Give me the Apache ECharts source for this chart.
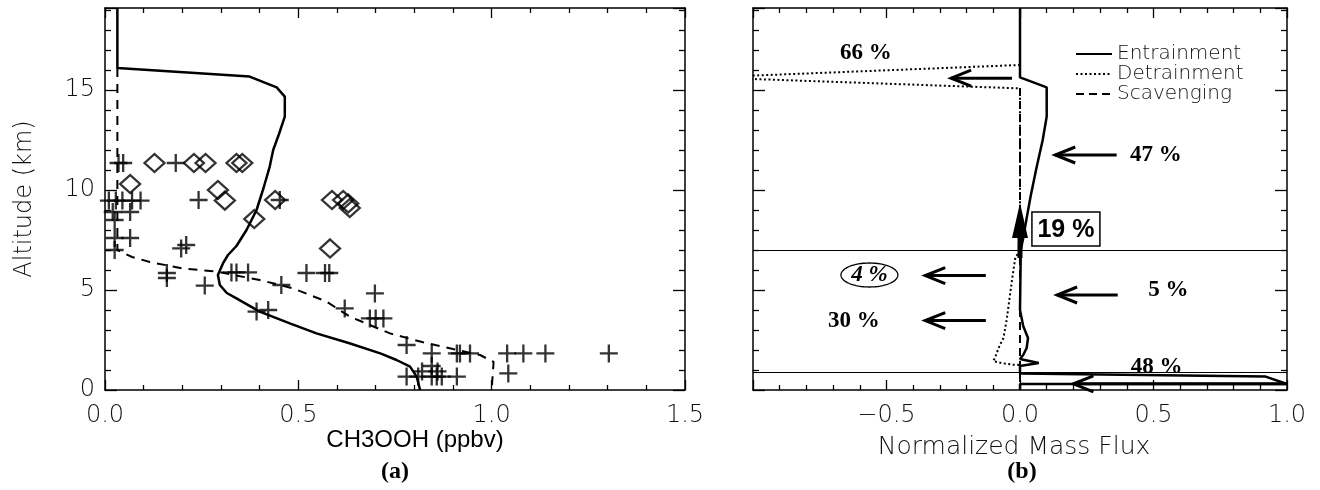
<!DOCTYPE html>
<html><head><meta charset="utf-8">
<script src="https://cdn.jsdelivr.net/npm/echarts@6/dist/echarts.min.js"></script>
<style>html,body{margin:0;padding:0;background:#fff}#c{width:1320px;height:490px}</style>
</head><body><div id="c"></div>
<script>
// ---------- DATA ----------
// Panel (a): CH3OOH (ppbv) vs altitude (km)
const modelSolid = [[0.032,19.1],[0.032,16.1],[0.374,15.67],[0.444,15.13],[0.465,14.67],[0.465,13.67],[0.45,12.8],[0.435,12.0],[0.426,11.17],[0.41,10.1],[0.392,9.0],[0.366,8.0],[0.34,7.2],[0.318,6.75],[0.305,6.33],[0.292,5.75],[0.297,5.25],[0.315,4.85],[0.34,4.58],[0.4,3.92],[0.478,3.33],[0.547,2.83],[0.63,2.35],[0.712,1.83],[0.754,1.5],[0.789,1.17],[0.806,0.67],[0.815,0]];
const modelDashed = [[0.032,16.1],[0.032,7.0],[0.07,6.65],[0.116,6.4],[0.2,6.08],[0.288,5.92],[0.4,5.5],[0.487,5.08],[0.573,4.42],[0.633,3.67],[0.737,2.83],[0.82,2.4],[0.9,2.05],[0.97,1.75],[1.005,1.4],[1.0,0]];
const obsCross = [[0.035,11.35],[0.047,11.35],[0.183,11.35],
 [0.01,9.47],[0.028,9.47],[0.045,9.47],[0.07,9.47],[0.092,9.47],[0.242,9.5],[0.452,9.5],
 [0.02,8.9],[0.065,8.9],[0.025,8.5],
 [0.025,7.6],[0.065,7.6],[0.025,7.0],[0.197,7.08],[0.21,7.25],
 [0.16,5.85],[0.16,5.6],[0.258,5.22],[0.327,5.88],[0.34,5.88],[0.37,5.88],[0.456,5.25],[0.521,5.85],[0.569,5.85],[0.58,5.85],
 [0.698,4.83],[0.392,3.92],[0.422,4.0],[0.62,4.08],[0.685,3.58],[0.70,3.58],[0.72,3.58],
 [0.78,2.25],[0.845,1.83],[0.91,1.83],[0.918,1.83],[0.944,1.83],[1.04,1.83],[1.082,1.83],[1.139,1.83],[1.303,1.83],
 [0.845,1.2],[0.82,0.93],[0.86,0.93],
 [0.78,0.67],[0.81,0.67],[0.845,0.67],[0.858,0.67],[0.871,0.67],[0.91,0.67],[1.043,0.83]];
const obsDiamond = [[0.128,11.35],[0.23,11.35],[0.26,11.35],[0.34,11.35],[0.355,11.35],[0.065,10.3],[0.292,10.0],[0.31,9.47],[0.44,9.5],[0.587,9.5],[0.616,9.5],[0.629,9.33],[0.633,9.1],[0.386,8.55],[0.582,7.08]];

// Panel (b): normalized mass flux vs altitude (km)
const entrainment = [[0,19.1],[0,15.63],[0.10,15.13],[0.10,14.5],[0.10,13.67],[0.085,12.5],[0.06,11.0],[0.04,9.7],[0.025,8.6],[0.012,7.6],[0.003,7.0],[0,4.0],[0.012,3.2],[0.03,2.6],[0.025,2.1],[0.012,1.75],[0,1.55],[0.07,1.35],[0,1.2],[0,0.83],[0.92,0.67],[1.0,0.3],[0,0.3],[0,0]];
const detrainment = [[0,16.25],[-1.17,15.63],[0,15.08],[0,6.9],[-0.017,6.67],[-0.03,5.5],[-0.035,5.0],[-0.045,4.0],[-0.05,3.5],[-0.062,2.6],[-0.077,2.2],[-0.094,1.6],[-0.1,1.45],[-0.07,1.35],[-0.03,1.27],[0,1.25]];
const scavenging = [[0,15.1],[0,0]];
const layerLevels = [6.97, 0.9];
const seriesNames = ['Entrainment','Detrainment','Scavenging'];
const fluxArrows = [[-0.03,15.59,-0.258,15.59],[0.362,11.75,0.132,11.75],[-0.128,5.72,-0.355,5.72],[-0.128,3.47,-0.355,3.47],[0.366,4.75,0.139,4.75],[1.0,0.31,0.2,0.31]];
const upArrow = [[0,6.6,0,9.35]];
const pctLabels = [['66 %',-0.577,16.85],['47 %',0.509,11.75],['5 %',0.556,5.0],['30 %',-0.622,3.47],['48 %',0.512,1.17]];
const circledLabel = [['4 %',-0.564,5.75]];
const boxedLabel = [['19 %',0.172,8.05]];

// ---------- CHART ----------
const thin = '"DejaVu Sans"';
const chart = echarts.init(document.getElementById('c'));
const axLine = {show:true, onZero:false, lineStyle:{color:'#000', width:1.5}};
const tick = {show:true, inside:true, length:10, lineStyle:{color:'#000', width:1.3}};
const minor = {show:true, splitNumber:5, length:5, lineStyle:{color:'#000', width:1.3}};
const lblStyle = {color:'#111', fontFamily:thin, fontWeight:200, fontSize:24};
function fmtX(v){ if (Math.abs(v+1)<1e-9) return ''; const s=Math.abs(v).toFixed(1); return v<0?'\u2212'+s:s; }
function xAx(grid, min, max, pos, show){
  return {type:'value', gridIndex:grid, min:min, max:max, interval:0.5, position:pos,
    axisLine:axLine, axisTick:tick, minorTick:minor, splitLine:{show:false},
    axisLabel:Object.assign({show:show, margin:14, formatter:fmtX}, lblStyle)};
}
function yAx(grid, pos, show){
  return {type:'value', gridIndex:grid, min:0, max:19.1, interval:5, position:pos,
    axisLine:axLine, axisTick:Object.assign({}, tick, {length:12}), minorTick:Object.assign({}, minor, {length:6}), splitLine:{show:false},
    axisLabel:Object.assign({show:show, margin:10, formatter:v=> (Math.abs(v%5)<1e-9? String(v):'')}, lblStyle)};
}
const cross = 'path://M10,0 L10,20 M0,10 L20,10';

function arrowItem(params, api){
  const p1 = api.coord([api.value(0), api.value(1)]);
  const p2 = api.coord([api.value(2), api.value(3)]);
  const dx=p2[0]-p1[0], dy=p2[1]-p1[1], L=Math.hypot(dx,dy), ux=dx/L, uy=dy/L;
  const hl=20, hw=8, b=[p2[0]-ux*hl, p2[1]-uy*hl];
  return {type:'group', children:[
    {type:'line', shape:{x1:p1[0],y1:p1[1],x2:p2[0],y2:p2[1]}, style:{stroke:'#000', lineWidth:3}},
    {type:'polyline', shape:{points:[[b[0]-uy*hw,b[1]+ux*hw],p2,[b[0]+uy*hw,b[1]-ux*hw]]}, style:{stroke:'#000', lineWidth:3, fill:null}}
  ]};
}
function upArrowItem(params, api){
  const p1 = api.coord([api.value(0), api.value(1)]);
  const p2 = api.coord([api.value(2), api.value(3)]);
  const hl=35, hw=8;
  return {type:'group', children:[
    {type:'line', shape:{x1:p1[0],y1:p1[1],x2:p2[0],y2:p2[1]+hl-2}, style:{stroke:'#000', lineWidth:5}},
    {type:'polygon', shape:{points:[[p2[0],p2[1]],[p2[0]-hw,p2[1]+hl],[p2[0]+hw,p2[1]+hl]]}, style:{fill:'#000'}}
  ]};
}
function pctItem(params, api){
  const p = api.coord([api.value(1), api.value(2)]);
  return {type:'text', x:p[0], y:p[1], style:{text:pctLabels[params.dataIndex][0], font:'bold 23px "Liberation Serif"', align:'center', verticalAlign:'middle', fill:'#000'}};
}
function circledItem(params, api){
  const p = api.coord([api.value(1), api.value(2)]);
  const pts=[]; for(let i=0;i<64;i++){const a=i/64*2*Math.PI; pts.push([p[0]+28.5*Math.cos(a), p[1]+12*Math.sin(a)]);}
  return {type:'group', children:[
    {type:'polygon', shape:{points:pts}, style:{stroke:'#000', lineWidth:1.3, fill:null}},
    {type:'text', x:p[0], y:p[1], style:{text:circledLabel[0][0], font:'italic bold 23px "Liberation Serif"', align:'center', verticalAlign:'middle', fill:'#000'}}
  ]};
}
function boxedItem(params, api){
  const p = api.coord([api.value(1), api.value(2)]);
  return {type:'group', children:[
    {type:'rect', shape:{x:p[0]-34, y:p[1]-17, width:68, height:34}, style:{stroke:'#000', lineWidth:1.5, fill:'#fff'}},
    {type:'text', x:p[0], y:p[1]+1, style:{text:boxedLabel[0][0], font:'bold 25px "Liberation Sans"', align:'center', verticalAlign:'middle', fill:'#000'}}
  ]};
}

const option = {
  animation:false,
  backgroundColor:'#fff',
  grid:[{left:105, top:8, width:580, height:382},{left:753, top:8, width:534, height:382}],
  xAxis:[xAx(0,0,1.5,'bottom',true), xAx(0,0,1.5,'top',false), xAx(1,-1,1,'bottom',true), xAx(1,-1,1,'top',false)],
  yAxis:[Object.assign(yAx(0,'left',true),{name:'Altitude (km)', nameLocation:'middle', nameGap:68, nameRotate:90, nameTextStyle:{fontFamily:thin, fontWeight:200, fontSize:24, color:'#111'}}),
         yAx(0,'right',false), yAx(1,'left',false), yAx(1,'right',false)],
  legend:{data:seriesNames, orient:'vertical', left:1070, top:39, itemWidth:36, itemHeight:14, itemGap:0,
    itemStyle:{color:'rgba(0,0,0,0)', borderWidth:0},
    textStyle:{fontFamily:thin, fontWeight:200, fontSize:20, color:'#111'}},
  graphic:[
    {type:'text', x:415, y:440, style:{text:'CH3OOH (ppbv)', font:'24px "Liberation Sans"', align:'center', verticalAlign:'middle', fill:'#000'}},
    {type:'text', x:395, y:472, style:{text:'(a)', font:'bold 24px "Liberation Serif"', align:'center', verticalAlign:'middle', fill:'#000'}},
    {type:'text', x:1014, y:447, style:{text:'Normalized Mass Flux', font:'200 25px "DejaVu Sans"', align:'center', verticalAlign:'middle', fill:'#111'}},
    {type:'text', x:1022, y:472, style:{text:'(b)', font:'bold 24px "Liberation Serif"', align:'center', verticalAlign:'middle', fill:'#000'}}
  ],
  series:[
    {type:'line', xAxisIndex:0, yAxisIndex:0, data:modelSolid, symbol:'none', lineStyle:{color:'#000', width:2.5}},
    {type:'line', xAxisIndex:0, yAxisIndex:0, data:modelDashed, symbol:'none', lineStyle:{color:'#000', width:2, type:[9,7]}},
    {type:'scatter', xAxisIndex:0, yAxisIndex:0, data:obsCross, symbol:cross, symbolSize:18, itemStyle:{color:'none', borderColor:'#000', borderWidth:2.3}},
    {type:'scatter', xAxisIndex:0, yAxisIndex:0, data:obsDiamond, symbol:'diamond', symbolSize:[20,18], itemStyle:{color:'rgba(0,0,0,0)', borderColor:'#000', borderWidth:2.3}},
    {name:seriesNames[0], type:'line', xAxisIndex:2, yAxisIndex:2, data:entrainment, symbol:'none', clip:true, itemStyle:{color:'#000'}, lineStyle:{color:'#000', width:2.5}},
    {name:seriesNames[1], type:'line', xAxisIndex:2, yAxisIndex:2, data:detrainment, symbol:'none', clip:true, itemStyle:{color:'#000'}, lineStyle:{color:'#000', width:2, type:[2,2.5]}},
    {name:seriesNames[2], type:'line', xAxisIndex:2, yAxisIndex:2, data:scavenging, symbol:'none', clip:true, itemStyle:{color:'#000'}, lineStyle:{color:'#000', width:2, type:[8,5]},
      markLine:{silent:true, symbol:['none','none'], label:{show:false}, lineStyle:{color:'#000', width:1.2, type:'solid'}, data:layerLevels.map(v=>({yAxis:v}))}},
    {type:'custom', xAxisIndex:2, yAxisIndex:2, data:fluxArrows, renderItem:arrowItem, z:5},
    {type:'custom', xAxisIndex:2, yAxisIndex:2, data:upArrow, renderItem:upArrowItem, z:5},
    {type:'custom', xAxisIndex:2, yAxisIndex:2, data:pctLabels, renderItem:pctItem, z:6},
    {type:'custom', xAxisIndex:2, yAxisIndex:2, data:circledLabel, renderItem:circledItem, z:6},
    {type:'custom', xAxisIndex:2, yAxisIndex:2, data:boxedLabel, renderItem:boxedItem, z:6}
  ]
};
chart.setOption(option);
</script></body></html>
